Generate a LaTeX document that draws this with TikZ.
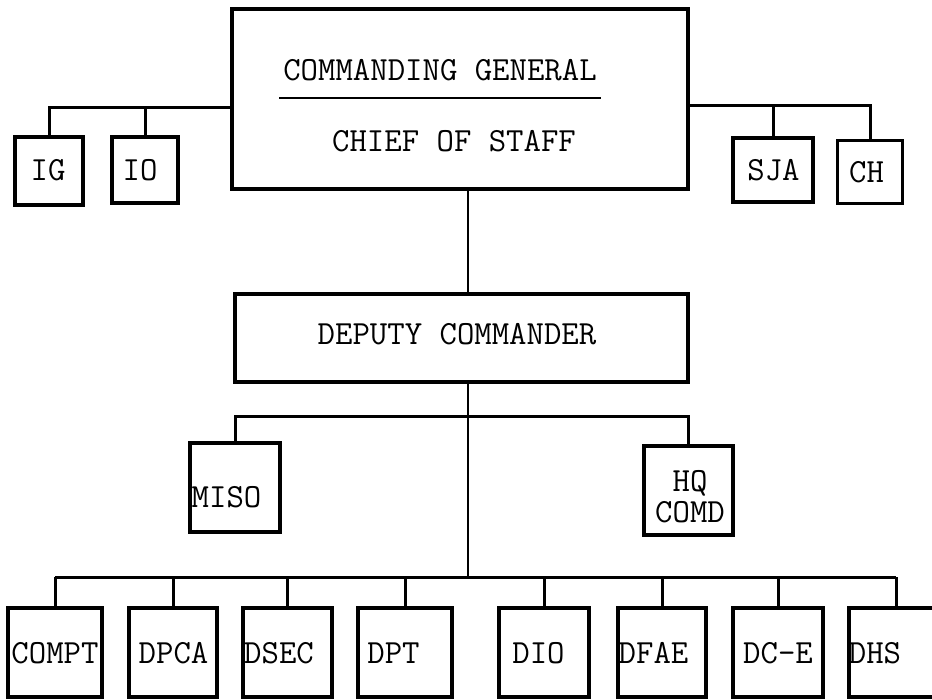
\documentclass[tikz,border=0pt]{standalone}
\usepackage{fontspec}
\usetikzlibrary{calc}

\tikzset{
  unit/.style={draw, line width=1.7pt, inner sep=0pt},
  caption/.style={inner sep=0pt, align=center,
    font=\ttfamily\fontsize{16.9}{15.5}\selectfont},
  link/.style={line width=1.5pt},
  spineline/.style={line width=1.1pt}
}

\begin{document}
\begin{tikzpicture}[x=0.5pt,y=-0.5pt]
\useasboundingbox (0,0) rectangle (932,700);
% command group
\node[unit,minimum width=228pt,minimum height=90pt] (cg) at (460,99) {};
\node[caption] (cgname) at (440,70) {COMMANDING GENERAL};
\node[caption] (csname) at (454,141) {CHIEF OF STAFF};
\draw[line width=1.2pt] (279,98) -- (601,98);
\node[unit,minimum width=34pt,minimum height=34pt] (ig) at (49,171) {};
\node[unit,minimum width=33pt,minimum height=33pt] (io) at (145,170) {};
\node[unit,minimum width=40pt,minimum height=32pt] (sja) at (773,170) {};
\node[unit,minimum width=32.5pt,minimum height=31.5pt] (ch) at (870,172) {};
\node[caption] (igname) at (48,170) {IG};
\node[caption] (ioname) at (140,170) {IO};
\node[caption] (sjaname) at (773.5,170) {SJA};
\node[caption] (chname) at (866.5,172) {CH};
\coordinate (lbus) at (232,108);
\coordinate (rbus) at (688,106);
\draw[link] (ig.north) |- (cg.west |- lbus);
\draw[link] (io.north) -- (io.north |- lbus);
\draw[link] (ch.north) |- (cg.east |- rbus);
\draw[link] (sja.north) -- (sja.north |- rbus);
% deputy
\node[unit,minimum width=226.5pt,minimum height=44pt] (dc) at (461.5,338) {};
\node[caption] (dcname) at (457,334) {DEPUTY COMMANDER};
\coordinate (spine) at (468,577);
\coordinate (midbus) at (468,416);
\draw[spineline] (cg.south -| spine) -- (dc.north -| spine);
\draw[spineline] (dc.south -| spine) -- (spine);
\node[unit,minimum width=45pt,minimum height=44.5pt] (miso) at (235,487.5) {};
\node[unit,minimum width=44.5pt,minimum height=44.5pt] (hq) at (688.5,490.5) {};
\node[caption] (misoname) at (226.5,497) {MISO};
\node[caption] (hqname) at (690,497) {HQ\\COMD};
\draw[link] (miso.north) -- (miso.north |- midbus) -- (hq.north |- midbus) -- (hq.north);
% directorates
\node[unit,minimum width=47pt,minimum height=44.5pt] (compt) at (55,652.5) {};
\node[unit,minimum width=44pt,minimum height=44.5pt] (dpca) at (173,652.5) {};
\node[unit,minimum width=44.5pt,minimum height=44.5pt] (dsec) at (287.5,652.5) {};
\node[unit,minimum width=47pt,minimum height=44.5pt] (dpt) at (405,652.5) {};
\node[unit,minimum width=45pt,minimum height=44.5pt] (dio) at (544,652.5) {};
\node[unit,minimum width=44pt,minimum height=44.5pt] (dfae) at (662,652.5) {};
\node[unit,minimum width=45pt,minimum height=44.5pt] (dce) at (778,652.5) {};
\node[unit,minimum width=51pt,minimum height=44.5pt] (dhs) at (900,652.5) {};
\node[caption] (comptname) at (55,653) {COMPT};
\node[caption] (dpcaname) at (173.5,653) {DPCA};
\node[caption] (dsecname) at (279,653) {DSEC};
\node[caption] (dptname) at (393.5,653) {DPT};
\node[caption] (dioname) at (538.5,653) {DIO};
\node[caption] (dfaename) at (653.5,653) {DFAE};
\node[caption] (dcename) at (778,653) {DC-E};
\node[caption] (dhsname) at (875,653) {DHS};
\draw[link] (compt.north |- spine) -- (896,577);
\foreach \b in {compt,dpca,dsec,dpt,dio,dfae,dce}
  \draw[link] (\b.north) -- (\b.north |- spine);
\draw[link] (dhs.north -| 896,0) -- (896,577);
\end{tikzpicture}
\end{document}
